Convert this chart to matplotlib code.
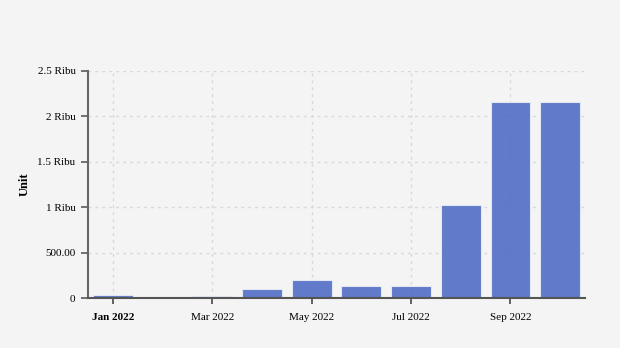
import matplotlib
matplotlib.use("Agg")
import matplotlib.pyplot as plt

months = ["Jan 2022", "Feb 2022", "Mar 2022", "Apr 2022", "May 2022", "Jun 2022",
          "Jul 2022", "Aug 2022", "Sep 2022", "Oct 2022"]
values = [30, 8, 20, 100, 198, 132, 132, 1024, 2158, 2158]
ytick_vals = [0, 500, 1000, 1500, 2000, 2500]
ytick_labels = ["0", "500.00", "1 Ribu", "1.5 Ribu", "2 Ribu", "2.5 Ribu"]

plt.rcParams['font.family'] = ['Liberation Serif', 'DejaVu Serif']

fig = plt.figure(figsize=(6.2, 3.48), dpi=100)
fig.patch.set_facecolor('#f4f4f4')
ax = fig.add_axes([88/620, 50/348, 497/620, 227/348])
ax.set_facecolor('#f4f4f4')

x = list(range(len(values)))
ax.bar(x, values, width=0.8, color='#5470c6', alpha=0.92, edgecolor='#e8ecf6',
       linewidth=0.8, zorder=2)

ax.set_xlim(-0.5, len(values) - 0.5)
ax.set_ylim(0, 2500)
ax.set_yticks(ytick_vals)
ax.set_yticklabels(ytick_labels)
ax.set_xticks(x[::2])
ax.set_xticklabels(months[::2])
ax.get_xticklabels()[0].set_fontweight('bold')

ax.grid(True, color='#d8d8d8', linestyle=(0, (2, 3)), linewidth=1, zorder=1)
ax.set_axisbelow(True)

for s in ['top', 'right']:
    ax.spines[s].set_visible(False)
ax.spines['left'].set_color('#666666')
ax.spines['left'].set_linewidth(1.5)
ax.spines['bottom'].set_color('#555555')
ax.spines['bottom'].set_linewidth(1.5)
ax.spines['left'].set_zorder(4)
ax.spines['bottom'].set_zorder(4)

ax.tick_params(axis='y', length=5, width=1.3, color='#666666', labelsize=8, pad=4)
ax.tick_params(axis='x', length=4, width=1.3, color='#555555', labelsize=8, pad=7)

ax.set_ylabel("Unit", fontsize=9, fontweight='bold', labelpad=5)

fig.savefig("out.png", dpi=100, facecolor=fig.get_facecolor())
